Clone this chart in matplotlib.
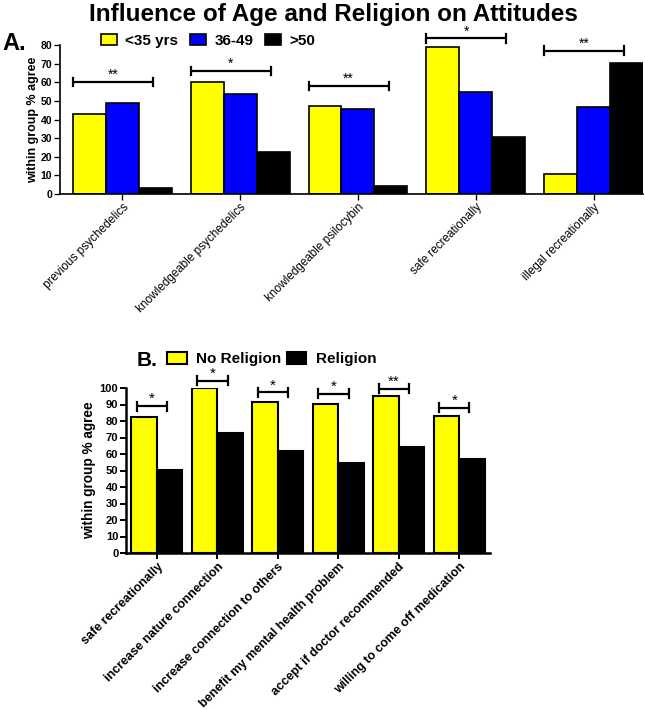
import numpy as np
import matplotlib.pyplot as plt
from matplotlib.patches import Patch

plt.rcParams['font.family'] = ['Liberation Sans', 'DejaVu Sans']

# panel A data: age groups
a_cats = ['previous psychedelics', 'knowledgeable psychedelics', 'knowledgeable psilocybin',
          'safe recreationally', 'illegal recreationally']
a_groups = ['<35 yrs', '36-49', '>50']
a_young = [43, 60, 47, 79, 11]
a_mid = [49, 53.5, 45.5, 55, 46.5]
a_old = [3.4, 22.5, 4.3, 30.5, 70.5]
a_sig = ['**', '*', '**', '*', '**']
a_sig_y = [60, 66, 58, 83.5, 77]

# panel B data: religion
b_cats = ['safe recreationally', 'increase nature connection', 'increase connection to others',
          'benefit my mental health problem', 'accept if doctor recommended',
          'willing to come off medication']
b_groups = ['No Religion', 'Religion']
b_norel = [82.5, 100, 91.5, 90.3, 95.3, 82.8]
b_rel = [50.5, 72.7, 61.8, 54.7, 64, 57.1]
b_sig = ['*', '*', '*', '*', '**', '*']
b_sig_y = [89, 104.5, 97.3, 96.5, 99.6, 88]

fig = plt.figure(figsize=(6.45, 7.1), dpi=100)

fig.text(333/645, 1 - 14/710, 'Influence of Age and Religion on Attitudes', ha='center', va='center',
         fontsize=17.5, fontweight='bold')


def bracket(ax, x0, x1, y, cap, label, fs):
    ax.plot([x0, x1], [y, y], color='black', lw=1.6, clip_on=False, solid_capstyle='butt')
    for xx in (x0, x1):
        ax.plot([xx, xx], [y - cap, y + cap], color='black', lw=1.6, clip_on=False)
    ax.text((x0 + x1) / 2, y, label, ha='center', va='bottom', fontsize=fs, clip_on=False)


def style(ax, lw):
    for s in ['top', 'right']:
        ax.spines[s].set_visible(False)
    for s in ['left', 'bottom']:
        ax.spines[s].set_linewidth(lw)
    ax.tick_params(width=lw * 0.8, length=4, pad=1.5)


# ---- panel A ----
axA = fig.add_axes([60/645, 1 - 194/710, 583/645, 149/710])
xa = np.arange(len(a_cats))
w = 0.28
axA.bar(xa - w, a_young, w, color='#ffff00', edgecolor='black', lw=1.2)
axA.bar(xa, a_mid, w, color='#0000ff', edgecolor='black', lw=1.2)
axA.bar(xa + w, a_old, w, color='black', edgecolor='black', lw=1.2)
axA.set_xlim(-0.53, 4.42)
axA.set_ylim(0, 80)
axA.set_yticks(range(0, 81, 10))
axA.set_xticks(xa)
axA.set_xticklabels(a_cats, rotation=45, ha='right', rotation_mode='anchor', fontsize=8.5)
for t in axA.get_yticklabels():
    t.set_fontsize(7.5)
    t.set_fontweight('bold')
axA.set_ylabel('within group % agree', fontsize=9, fontweight='bold', labelpad=1)
style(axA, 1.2)
for i in range(len(a_cats)):
    bracket(axA, xa[i] - 0.42, xa[i] + 0.26, a_sig_y[i], 2.2, a_sig[i], 10)

fig.text(2/645, 1 - 43/710, 'A.', fontsize=17, fontweight='bold', va='center', ha='left')
hA = [Patch(facecolor=c, edgecolor='black', lw=1.2) for c in ['#ffff00', '#0000ff', 'black']]
fig.legend(hA, a_groups, loc='center left', bbox_to_anchor=(101/645, 1 - 41/710), ncol=3,
           frameon=False, prop={'size': 11, 'weight': 'bold'}, handlelength=1.05, handleheight=0.7,
           handletextpad=0.55, columnspacing=0.75, borderpad=0, borderaxespad=0)

# ---- panel B ----
axB = fig.add_axes([126/645, 1 - 553/710, 364/645, 165/710])
xb = np.arange(len(b_cats))
wb = 0.42
axB.bar(xb - wb/2, b_norel, wb, color='#ffff00', edgecolor='black', lw=1.5)
axB.bar(xb + wb/2, b_rel, wb, color='black', edgecolor='black', lw=1.5)
axB.set_xlim(-0.51, 5.51)
axB.set_ylim(0, 100)
axB.set_yticks(range(0, 101, 10))
axB.set_xticks(xb)
axB.set_xticklabels(b_cats, rotation=45, ha='right', rotation_mode='anchor', fontsize=9,
                    fontweight='bold')
for t in axB.get_yticklabels():
    t.set_fontsize(8)
    t.set_fontweight('bold')
axB.set_ylabel('within group % agree', fontsize=9.8, fontweight='bold', labelpad=3)
style(axB, 1.8)
for i in range(len(b_cats)):
    bracket(axB, xb[i] - 0.33, xb[i] + 0.17, b_sig_y[i], 2.8, b_sig[i], 11)

fig.text(137/645, 1 - 361/710, 'B.', fontsize=15, fontweight='bold', va='center', ha='left')
hB = [Patch(facecolor=c, edgecolor='black', lw=1.5) for c in ['#ffff00', 'black']]
fig.legend(hB, b_groups, loc='center left', bbox_to_anchor=(167/645, 1 - 359/710), ncol=2,
           frameon=False, prop={'size': 11, 'weight': 'bold'}, handlelength=1.3, handleheight=0.8,
           handletextpad=0.6, columnspacing=0.35, borderpad=0, borderaxespad=0)

fig.savefig('out.png', dpi=100)
